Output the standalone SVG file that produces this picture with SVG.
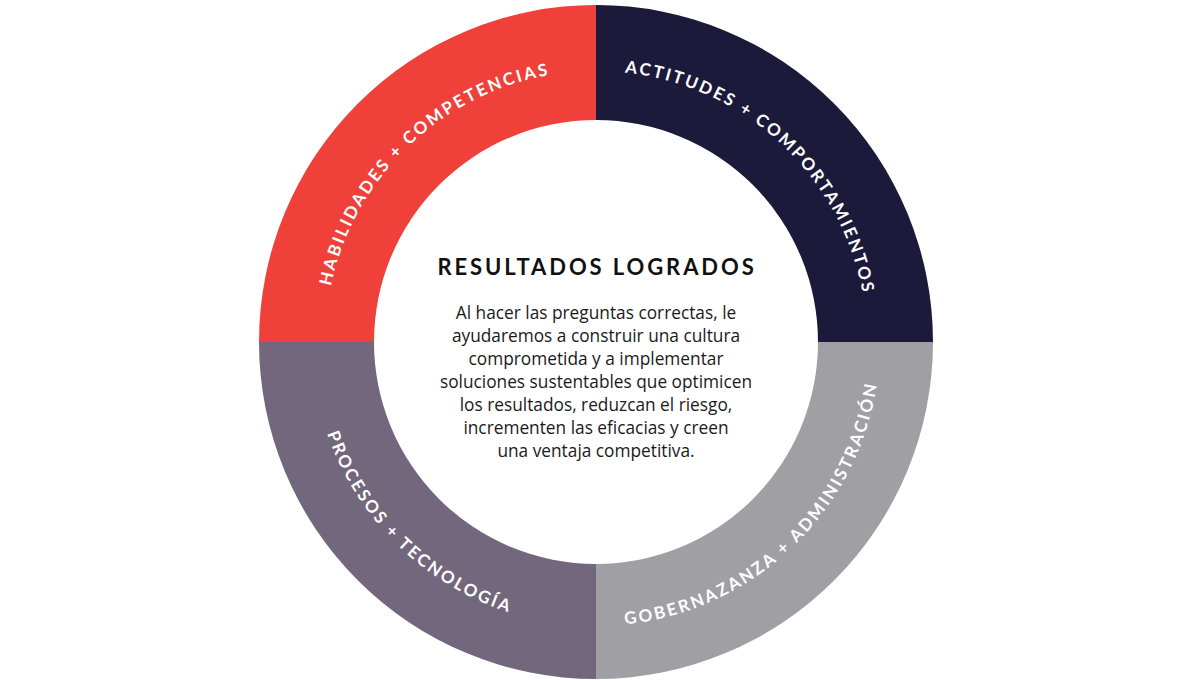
<svg xmlns="http://www.w3.org/2000/svg" xmlns:xlink="http://www.w3.org/1999/xlink" width="1200" height="680" viewBox="0 0 1200 680">
<style>
.arc{font-family:Lato,"Liberation Sans",sans-serif;font-weight:700;font-size:17px;letter-spacing:2.4px;fill:#ffffff}
.title{font-family:Lato,"Liberation Sans",sans-serif;font-weight:700;font-size:22px;letter-spacing:2.9px;fill:#111111}
.body{font-family:"Open Sans","Liberation Sans",sans-serif;font-size:17.3px;fill:#1a1a1a}
</style>
<defs>
<path id="topArc" d="M325,342 A271,271 0 0 1 867,342"/>
<path id="botArc" d="M312,342 A284,284 0 0 0 880,342"/>
</defs>
<rect width="1200" height="680" fill="#ffffff"/>
<g id="habilidades">
<path d="M259,342 A337,337 0 0 1 596,5 L596,120 A222,222 0 0 0 374,342 Z" fill="#EF413A"/>
<text class="arc" text-anchor="middle"><textPath xlink:href="#topArc" href="#topArc" startOffset="218">HABILIDADES + COMPETENCIAS</textPath></text>
</g>
<g id="actitudes">
<path d="M596,5 A337,337 0 0 1 933,342 L818,342 A222,222 0 0 0 596,120 Z" fill="#1C1A3A"/>
<text class="arc" text-anchor="middle"><textPath xlink:href="#topArc" href="#topArc" startOffset="629">ACTITUDES + COMPORTAMIENTOS</textPath></text>
</g>
<g id="gobernanza">
<path d="M933,342 A337,337 0 0 1 596,679 L596,564 A222,222 0 0 0 818,342 Z" fill="#A0A0A4"/>
<text class="arc" text-anchor="middle"><textPath xlink:href="#botArc" href="#botArc" startOffset="663">GOBERNAZANZA + ADMINISTRACIÓN</textPath></text>
</g>
<g id="procesos">
<path d="M596,679 A337,337 0 0 1 259,342 L374,342 A222,222 0 0 0 596,564 Z" fill="#72677D"/>
<text class="arc" text-anchor="middle"><textPath xlink:href="#botArc" href="#botArc" startOffset="226">PROCESOS + TECNOLOGÍA</textPath></text>
</g>
<g id="centro">
<text class="title" x="597" y="275" text-anchor="middle">RESULTADOS LOGRADOS</text>
<text class="body" text-anchor="middle" x="596" y="319">Al hacer las preguntas correctas, le</text>
<text class="body" text-anchor="middle" x="596" y="342">ayudaremos a construir una cultura</text>
<text class="body" text-anchor="middle" x="596" y="365">comprometida y a implementar</text>
<text class="body" text-anchor="middle" x="596" y="388">soluciones sustentables que optimicen</text>
<text class="body" text-anchor="middle" x="596" y="411">los resultados, reduzcan el riesgo,</text>
<text class="body" text-anchor="middle" x="596" y="434">incrementen las eficacias y creen</text>
<text class="body" text-anchor="middle" x="596" y="457">una ventaja competitiva.</text>
</g>
</svg>
